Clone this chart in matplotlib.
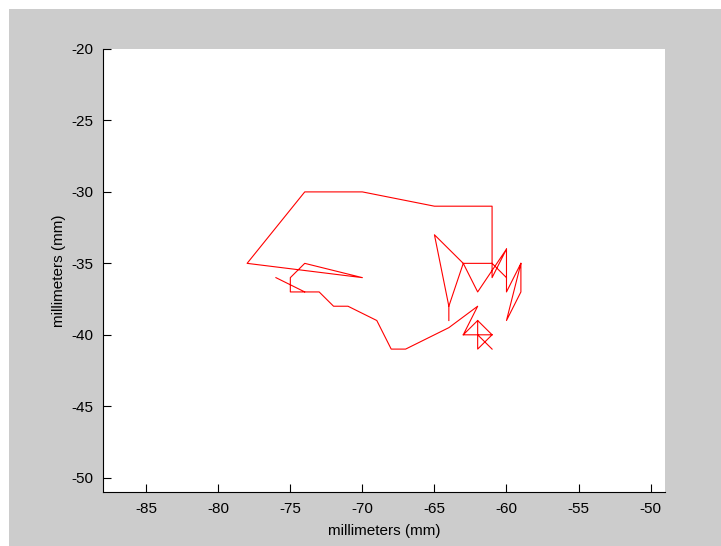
import numpy as np
import matplotlib
matplotlib.use("Agg")
import matplotlib.pyplot as plt
from matplotlib.patches import Rectangle

# trajectory (mm), pieces split by nan so no stretch is drawn twice
path_x = [-76, -74, -75, -75, -74, -70, -78, -74, -70, -65, -61, -61, -60, -62, -63,
          -65, -64, -63, -61, -60, -60, -59, -59, -60, -59, np.nan,
          -74, -73, -72, -71, -69, -68, -67, -64, -62, -63, -62, -62, -61, np.nan,
          -62, -61, -62, -62, np.nan,
          -63, -61, np.nan,
          -60, -60, np.nan,
          -64, -64]
path_y = [-36, -37, -37, -36, -35, -36, -35, -30, -30, -31, -31, -36, -34, -37, -35,
          -33, -38, -35, -35, -36, -37, -35, -37, -39, -35, np.nan,
          -37, -37, -38, -38, -39, -41, -41, -39.5, -38, -40, -39, -40, -41, np.nan,
          -39, -40, -41, -40, np.nan,
          -40, -40, np.nan,
          -34, -36, np.nan,
          -38, -39]

x_ticks = [-85, -80, -75, -70, -65, -60, -55, -50]
y_ticks = [-50, -45, -40, -35, -30, -25, -20]

plt.rcParams['font.family'] = ['Liberation Sans', 'DejaVu Sans']
plt.rcParams['axes.unicode_minus'] = False

fig = plt.figure(figsize=(7.21, 5.46), dpi=100)
fig.patch.set_facecolor('white')
# grey MATLAB-style window background (white strip on top and left)
fig.patches.append(Rectangle((9/721, 0), 712/721, 537/546, transform=fig.transFigure,
                             facecolor='#cccccc', edgecolor='none', zorder=-10))

ax = fig.add_axes([103/721, 54/546, 562/721, 443/546])
ax.plot(path_x, path_y, color='red', linewidth=0.8, solid_joinstyle='round')

ax.set_xlim(-88, -49)
ax.set_ylim(-51, -20)
ax.set_xticks(x_ticks)
ax.set_yticks(y_ticks)
ax.tick_params(direction='in', length=5.5, width=0.8, labelsize=11, colors='black', pad=7)
ax.spines['top'].set_visible(False)
ax.spines['right'].set_visible(False)
ax.spines['left'].set_linewidth(0.8)
ax.spines['bottom'].set_linewidth(0.8)

ax.set_xlabel("millimeters (mm)", fontsize=11, labelpad=6)
ax.set_ylabel("millimeters (mm)", fontsize=11, labelpad=4)

fig.savefig("out.png", dpi=100, facecolor=fig.get_facecolor())
